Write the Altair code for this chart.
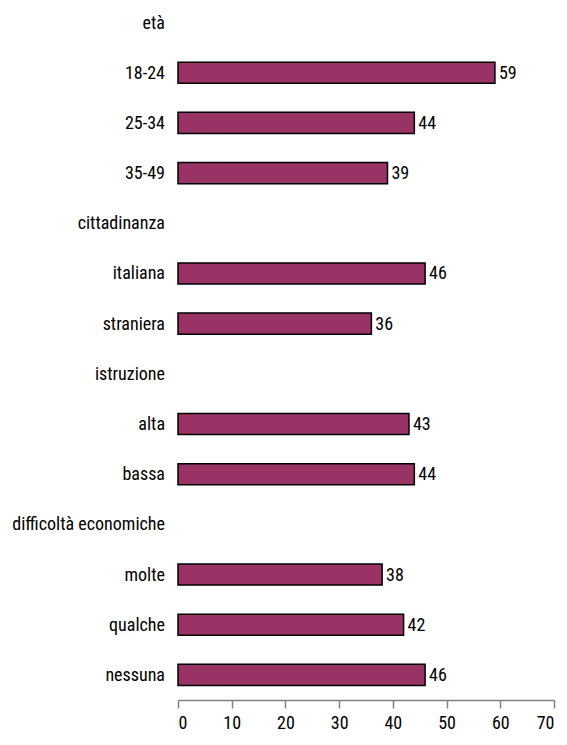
import altair as alt
import pandas as pd

categories = ["età", "18-24", "25-34", "35-49", "cittadinanza", "italiana", "straniera",
              "istruzione", "alta", "bassa", "difficoltà economiche", "molte", "qualche", "nessuna"]
values = [None, 59, 44, 39, None, 46, 36, None, 43, 44, None, 38, 42, 46]
x_ticks = [0, 10, 20, 30, 40, 50, 60, 70]

FONT = "Roboto Condensed"
FS = 18
HALF = 0.21

df = pd.DataFrame({"cat": categories, "val": values, "idx": list(range(len(categories)))})
df["y0"] = df["idx"] - HALF
df["y1"] = df["idx"] + HALF
bars_df = df.dropna(subset=["val"])

yscale = alt.Scale(domain=[-0.27, 13.5], reverse=True, nice=False, zero=False)
xscale = alt.Scale(domain=[0, 70], nice=False)

base_bar = alt.Chart(bars_df)

bars = base_bar.mark_bar(color="#993366", stroke="black", strokeWidth=1.5).encode(
    x=alt.X("val:Q", scale=xscale,
            axis=alt.Axis(values=x_ticks, title=None, grid=False, domainColor="#808080",
                          tickColor="#808080", tickSize=8, domainWidth=1.5, tickWidth=1.5,
                          labelFontSize=FS, labelFont=FONT, labelColor="black",
                          labelPadding=6)),
    x2=alt.value(0),
    y=alt.Y("y0:Q", scale=yscale, axis=None),
    y2="y1:Q",
)

val_labels = base_bar.mark_text(align="left", baseline="middle", dx=4, dy=1,
                                font=FONT, fontSize=FS, color="black").encode(
    x=alt.X("val:Q", scale=xscale),
    y=alt.Y("idx:Q", scale=yscale),
    text=alt.Text("val:Q", format="d"),
)

cat_labels = alt.Chart(df).mark_text(align="right", baseline="middle", dy=1,
                                     font=FONT, fontSize=FS, color="black").encode(
    x=alt.value(-13),
    y=alt.Y("idx:Q", scale=yscale),
    text="cat:N",
)

chart = alt.layer(bars, val_labels, cat_labels).properties(
    width=376, height=691,
    background="white",
    autosize=alt.AutoSizeParams(type="none"),
    padding={"left": 170, "top": 1, "right": 5, "bottom": 36},
).configure_view(strokeWidth=0, stroke="transparent")

chart.save("out.html", embed_options={"renderer": "svg", "actions": False})
